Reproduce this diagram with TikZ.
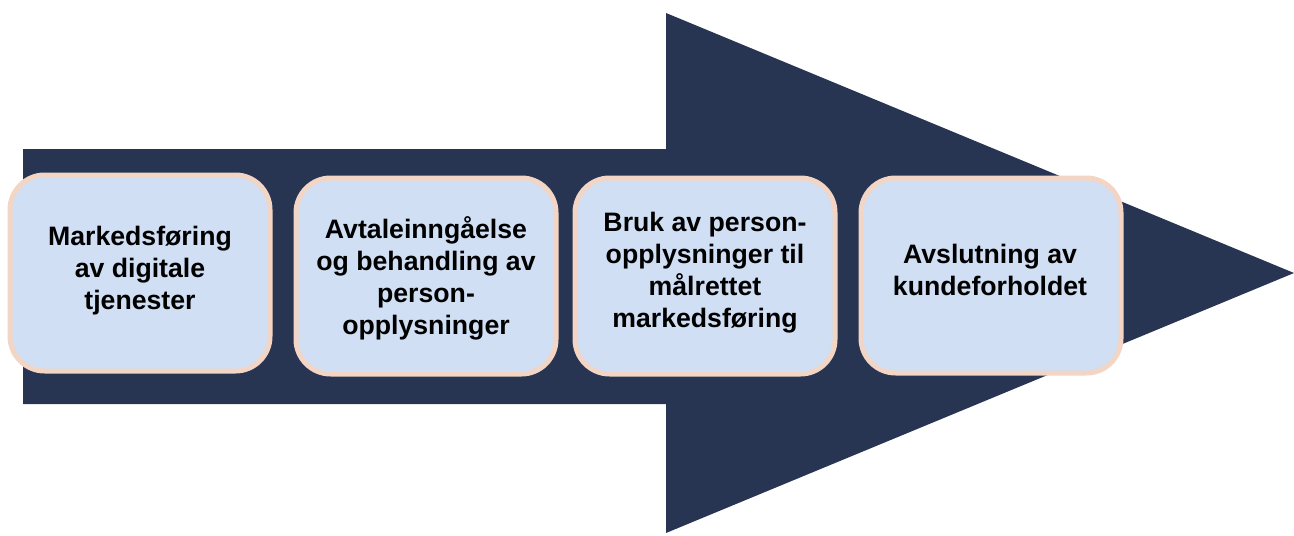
\documentclass[tikz,border=0pt]{standalone}
\usepackage{fontspec}
\setmainfont{Liberation Sans}
\definecolor{navy}{HTML}{283552}
\definecolor{boxfill}{HTML}{D0DFF3}
\definecolor{boxline}{HTML}{F2D5C4}
\begin{document}
\begin{tikzpicture}[x=0.75pt,y=-0.75pt,
  stagebox/.style={draw=boxline,fill=boxfill,line width=3.75pt,rounded corners=26pt},
  stagetext/.style={align=center,font=\fontsize{20}{24}\selectfont\bfseries,text=black,inner sep=0pt}]
\useasboundingbox (0,0) rectangle (1294,535);
\fill[navy] (23,149) -- (666,149) -- (666,13) -- (1294,273) -- (666,533) -- (666,404) -- (23,404) -- cycle;
\draw[stagebox] (10,175) rectangle (270,371);
\draw[stagebox] (296,178) rectangle (556,374);
\draw[stagebox] (575,178) rectangle (835,374);
\draw[stagebox] (861,178) rectangle (1121,373);
\node[stagetext] (t1) at (140,271) {Markedsføring\\av digitale\\tjenester};
\node[stagetext] (t2) at (426,278) {Avtaleinngåelse\\og behandling av\\person-\\opplysninger};
\node[stagetext] (t3) at (705,273) {Bruk av person-\\opplysninger til\\målrettet\\markedsføring};
\node[stagetext] (t4) at (990,270) {Avslutning av\\kundeforholdet};
\end{tikzpicture}
\end{document}
